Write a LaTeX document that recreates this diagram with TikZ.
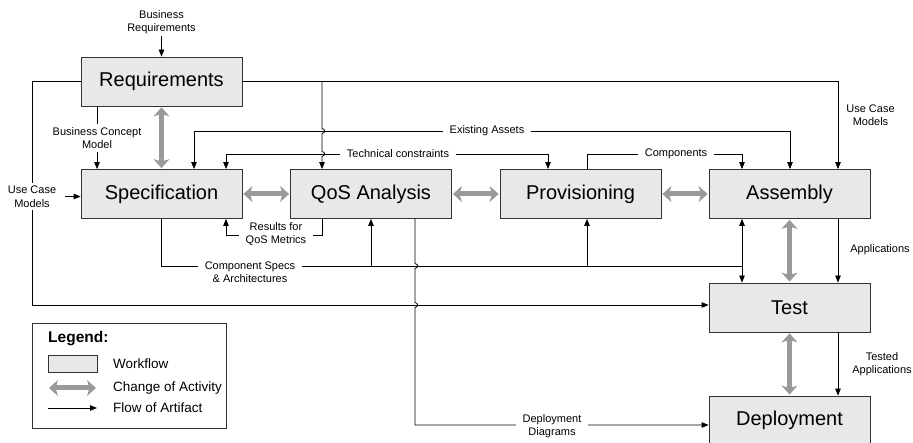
\documentclass[tikz,border=0pt]{standalone}
\usepackage{fontspec}
\setmainfont{Liberation Sans}
\usetikzlibrary{arrows.meta,calc}
\definecolor{boxgray}{HTML}{E8E8E8}
\definecolor{chggray}{HTML}{999999}
\begin{document}
\begin{tikzpicture}[x=1pt,y=-1pt,
  box/.style={draw=black!80, line width=0.8pt, fill=boxgray, minimum width=161pt, minimum height=49pt, inner sep=0pt, font=\fontsize{20}{24}\selectfont},
  lbl/.style={font=\fontsize{11}{13.5}\selectfont, align=center, inner sep=1.5pt},
  wlbl/.style={lbl, fill=white, inner xsep=6.5pt, inner ysep=3pt},
  conn/.style={draw=black, line width=0.8pt},
  flow/.style={conn, -{Triangle[length=7pt,width=5.5pt]}},
  flowtwo/.style={conn, {Triangle[length=7pt,width=5.5pt]}-{Triangle[length=7pt,width=5.5pt]}},
  chg/.style={draw=chggray, line width=5pt, shorten <=1pt, shorten >=1pt,
    {Stealth[length=9pt,width=16pt,inset=2.5pt]}-{Stealth[length=9pt,width=16pt,inset=2.5pt]}},
  legtxt/.style={font=\fontsize{13.5}{16}\selectfont, anchor=west, inner sep=0pt}]
\useasboundingbox (0,0) rectangle (913,443);

% workflow boxes
\node[box] (req)  at (161.5,81.5) {Requirements};
\node[box] (spec) at (161.5,194) {Specification};
\node[box] (qos)  at (371,194) {QoS Analysis};
\node[box] (prov) at (580.5,194) {Provisioning};
\node[box] (asm)  at (789.5,194) {Assembly};
\node[box] (test) at (789.5,307.5) {Test};
\node[box] (dep)  at (789.5,420.5) {Deployment};

% change of activity
\draw[chg] (req.south) -- (spec.north);
\draw[chg] (spec.east) -- (qos.west);
\draw[chg] (qos.east) -- (prov.west);
\draw[chg] (prov.east) -- (asm.west);
\draw[chg] (asm.south) -- (test.north);
\draw[chg] (test.south) -- (dep.north);

% business requirements
\node[lbl] (br) at (161.5,22) {Business\\Requirements};
\draw[flow] (br.south) -- (req.north);

% use case models (left)
\node[lbl, fill=white, inner sep=3pt] (ucl) at (32,196.5) {Use Case\\Models};
\coordinate (lb) at (32,305);
\draw[conn] (req.west) -| (ucl.north);
\draw[flow] (ucl.south) -- (lb) -- (test.west |- lb);
\draw[flow, shorten <=6pt] (ucl.east) -- (spec.west |- ucl.east);

% use case models (right) and branch to QoS
\coordinate (ucr) at (838,0);
\draw[flow] (req.east) -| (asm.north -| ucr);
\coordinate (qb) at (322,81.5);
\draw[flow] (qb) -- (322,128.5) .. controls (325.5,129) and (325.5,133) .. (322,133.5)
  -- (322,151.5) .. controls (325.5,152) and (325.5,156) .. (322,156.5) -- (qos.north -| qb);
\node[lbl] (ucrl) at (870.5,115) {Use Case\\Models};

% business concept model
\coordinate (bcm) at (97,0);
\draw[flow] (req.south -| bcm) -- (spec.north -| bcm);
\node[lbl, fill=white, inner sep=3pt] (bcml) at (97,138) {Business Concept\\Model};

% existing assets
\coordinate (eaL) at (194,131);
\coordinate (eaR) at (790,131);
\draw[flowtwo] (spec.north -| eaL) -- (eaL) -- (eaR) -- (asm.north -| eaR);
\node[wlbl] (eal) at (487,131) {Existing Assets};

% technical constraints
\coordinate (tcL) at (226,154);
\coordinate (tcR) at (548,154);
\draw[flowtwo] (spec.north -| tcL) -- (tcL) -- (tcR) -- (prov.north -| tcR);
\node[wlbl] (tcl) at (398,154) {Technical constraints};

% components
\coordinate (cmL) at (587,154);
\coordinate (cmR) at (742,154);
\draw[flow] (prov.north -| cmL) -- (cmL) -- (cmR) -- (asm.north -| cmR);
\node[wlbl] (cml) at (676,154) {Components};

% results for QoS metrics
\coordinate (rqR) at (322,235);
\coordinate (rqL) at (226,235);
\draw[flow] (qos.south -| rqR) -- (rqR) -- (rqL) -- (spec.south -| rqL);
\node[wlbl] (rql) at (276,234) {Results for\\QoS Metrics};

% component specs & architectures
\coordinate (csL) at (161.5,266);
\coordinate (csR) at (742,266);
\coordinate (cs1) at (371,266);
\coordinate (cs2) at (587,266);
\draw[conn] (spec.south) -- (csL) -- (csR);
\draw[flow] (cs1) -- (qos.south -| cs1);
\draw[flow] (cs2) -- (prov.south -| cs2);
\draw[flow] (csR) -- (asm.south -| csR);
\draw[flow] (csR) -- (test.north -| csR);
\node[wlbl] (csl) at (250,272) {Component Specs\\\& Architectures};

% deployment diagrams
\coordinate (dd) at (415,425);
\draw[flow] (qos.south -| dd) -- (415,263.5) .. controls (418.5,264) and (418.5,268) .. (415,268.5)
  -- (415,302.5) .. controls (418.5,303) and (418.5,307) .. (415,307.5) -- (dd) -- (dep.west |- dd);
\node[wlbl] (ddl) at (552,426) {Deployment\\Diagrams};

% applications
\draw[flow] (asm.south -| ucr) -- (test.north -| ucr);
\node[lbl] (apl) at (880,250) {Applications};
\draw[flow] (test.south -| ucr) -- (dep.north -| ucr);
\node[lbl] (tal) at (882,364) {Tested\\Applications};

% legend
\node[draw=black!80, line width=0.8pt, minimum width=194pt, minimum height=105pt, inner sep=0pt, anchor=north west] (legbox) at (32,323) {};
\node[legtxt, font=\fontsize{15.5}{18}\selectfont\bfseries] (legt) at (48,339) {Legend:};
\node[draw=black!80, line width=0.8pt, fill=boxgray, minimum width=49pt, minimum height=17pt, inner sep=0pt, anchor=north west] (legw) at (48,355) {};
\node[legtxt] (legwt) at (113,364) {Workflow};
\coordinate (lca) at (48,388);
\coordinate (lcb) at (97,388);
\draw[chg] (lca) -- (lcb);
\node[legtxt] (legct) at (113,388) {Change of Activity};
\coordinate (lfa) at (48,408);
\coordinate (lfb) at (97,408);
\draw[flow] (lfa) -- (lfb);
\node[legtxt] (legft) at (113,408) {Flow of Artifact};
\end{tikzpicture}
\end{document}
